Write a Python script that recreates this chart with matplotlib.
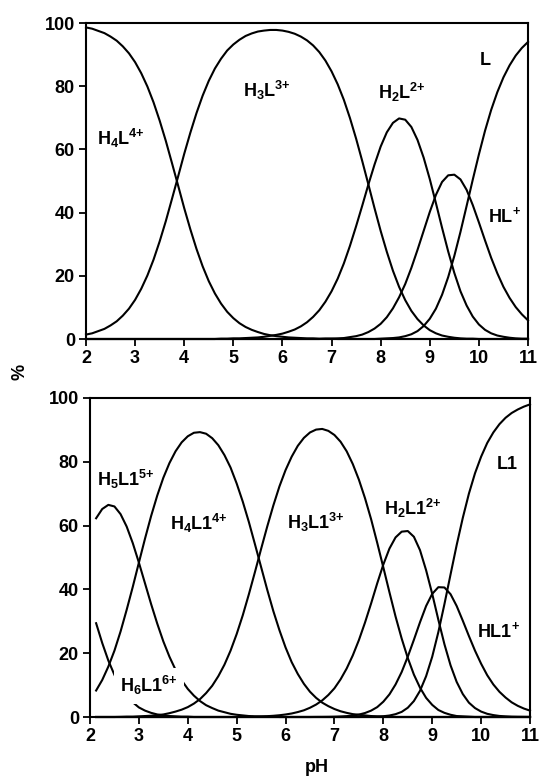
import matplotlib
matplotlib.use("Agg")
import matplotlib.pyplot as plt

plt.rcParams["font.family"] = ["Liberation Sans", "DejaVu Sans"]
plt.rcParams["font.weight"] = "bold"
plt.rcParams["mathtext.fontset"] = "custom"
plt.rcParams["mathtext.rm"] = "Liberation Sans:bold"

# ---- top panel: L (percent of each species vs pH) ----
ph_top = [2.0, 2.125, 2.25, 2.375, 2.5, 2.625, 2.75, 2.875, 3.0, 3.125, 3.25, 3.375,
          3.5, 3.625, 3.75, 3.875, 4.0, 4.125, 4.25, 4.375, 4.5, 4.625, 4.75, 4.875,
          5.0, 5.125, 5.25, 5.375, 5.5, 5.625, 5.75, 5.875, 6.0, 6.125, 6.25, 6.375,
          6.5, 6.625, 6.75, 6.875, 7.0, 7.125, 7.25, 7.375, 7.5, 7.625, 7.75, 7.875,
          8.0, 8.125, 8.25, 8.375, 8.5, 8.625, 8.75, 8.875, 9.0, 9.125, 9.25, 9.375,
          9.5, 9.625, 9.75, 9.875, 10.0, 10.125, 10.25, 10.375, 10.5, 10.625, 10.75,
          10.875, 11.0]
h4l = [98.6, 98.2, 97.5, 96.8, 95.7, 94.4, 92.6, 90.4, 87.6, 84.1, 79.9, 74.9,
       69.1, 62.7, 55.7, 48.6, 41.4, 34.7, 28.5, 23.0, 18.3, 14.4, 11.2, 8.6,
       6.6, 5.0, 3.8, 2.9, 2.2, 1.6, 1.2, 0.9, 0.7, 0.5, 0.4, 0.3,
       0.2, 0.2, 0.1, 0.1, 0.1] + [0] * 32
h3l = [1.4, 1.8, 2.5, 3.2, 4.3, 5.6, 7.4, 9.6, 12.4, 15.9, 20.1, 25.1,
       30.9, 37.3, 44.3, 51.4, 58.6, 65.3, 71.5, 77.0, 81.7, 85.6, 88.7, 91.3,
       93.2, 94.7, 95.9, 96.7, 97.3, 97.6, 97.8, 97.8, 97.6, 97.2, 96.6, 95.7,
       94.5, 92.9, 90.8, 88.1, 84.7, 80.6, 75.7, 69.9, 63.4, 56.3, 48.9, 41.4,
       34.2, 27.6, 21.6, 16.5, 12.3, 8.9, 6.3, 4.3, 2.8, 1.8, 1.1, 0.7,
       0.4, 0.2, 0.1, 0.1] + [0] * 9
h2l = [0] * 22 + [0.1, 0.1,
       0.2, 0.2, 0.3, 0.4, 0.5, 0.7, 1.0, 1.3, 1.7, 2.3, 3.0, 4.0,
       5.3, 7.0, 9.1, 11.8, 15.1, 19.1, 23.9, 29.5, 35.7, 42.2, 48.9, 55.2,
       60.9, 65.4, 68.4, 69.8, 69.4, 67.1, 63.0, 57.4, 50.6, 43.0, 35.2, 27.7,
       20.9, 15.1, 10.6, 7.1, 4.6, 2.9, 1.8, 1.1, 0.7, 0.4, 0.2, 0.1, 0.1]
hl = [0] * 39 + [0.1,
      0.1, 0.2, 0.3, 0.6, 0.9, 1.4, 2.2, 3.3,
      4.8, 6.9, 9.7, 13.2, 17.4, 22.5, 28.2, 34.2, 40.2, 45.6, 49.7, 51.8,
      52.0, 50.5, 47.2, 42.4, 36.9, 31.2, 25.7, 20.8, 16.5, 13.0, 10.1, 7.8, 5.9]
l_free = [0] * 48 + [
    0.1, 0.2, 0.3, 0.5, 0.9, 1.5, 2.5, 4.1, 6.4, 9.6, 14.0, 19.6,
    26.3, 33.9, 42.1, 50.4, 58.4, 65.9, 72.5, 78.1, 82.8, 86.6, 89.7, 92.1, 94.0]

# ---- bottom panel: L1 ----
ph_bot = [2.125, 2.25, 2.375, 2.5, 2.625, 2.75, 2.875, 3.0, 3.125, 3.25, 3.375,
          3.5, 3.625, 3.75, 3.875, 4.0, 4.125, 4.25, 4.375, 4.5, 4.625, 4.75, 4.875,
          5.0, 5.125, 5.25, 5.375, 5.5, 5.625, 5.75, 5.875, 6.0, 6.125, 6.25, 6.375,
          6.5, 6.625, 6.75, 6.875, 7.0, 7.125, 7.25, 7.375, 7.5, 7.625, 7.75, 7.875,
          8.0, 8.125, 8.25, 8.375, 8.5, 8.625, 8.75, 8.875, 9.0, 9.125, 9.25, 9.375,
          9.5, 9.625, 9.75, 9.875, 10.0, 10.125, 10.25, 10.375, 10.5, 10.625, 10.75,
          10.875, 11.0]
h6l1 = [29.4, 23.2, 17.7, 13.2, 9.5, 6.7, 4.6, 3.0, 2.0, 1.3, 0.8,
        0.5, 0.3, 0.2, 0.1, 0.1] + [0] * 56
h5l1 = [62.3, 65.2, 66.5, 66.0, 63.6, 59.7, 54.5, 48.4, 41.9, 35.4, 29.3,
        23.7, 18.9, 14.8, 11.5, 8.8, 6.7, 5.0, 3.7, 2.8, 2.0, 1.5, 1.0,
        0.7, 0.5, 0.3, 0.2, 0.15, 0.1, 0.1] + [0] * 42
h4l1 = [8.3, 11.6, 15.8, 20.8, 26.8, 33.6, 40.8, 48.4, 55.9, 63.0, 69.4,
        75.0, 79.6, 83.3, 86.1, 88.0, 89.1, 89.3, 88.8, 87.4, 85.2, 82.1, 78.2,
        73.2, 67.5, 61.1, 54.1, 47.0, 39.9, 33.2, 27.2, 21.8, 17.2, 13.5, 10.4,
        7.9, 6.0, 4.5, 3.4, 2.5, 1.8, 1.3, 0.9, 0.7, 0.5, 0.3, 0.2,
        0.1, 0.1] + [0] * 23
h3l1 = [0, 0, 0, 0, 0.04, 0.1, 0.1, 0.2, 0.3, 0.4, 0.6,
        0.8, 1.2, 1.7, 2.3, 3.1, 4.2, 5.6, 7.5, 9.8, 12.8, 16.4, 20.8,
        26.0, 31.9, 38.5, 45.5, 52.7, 59.7, 66.3, 72.3, 77.4, 81.6, 85.0, 87.5,
        89.2, 90.1, 90.3, 89.7, 88.4, 86.3, 83.3, 79.3, 74.4, 68.6, 62.0, 54.6,
        46.9, 39.1, 31.5, 24.6, 18.5, 13.3, 9.2, 6.0, 3.8, 2.2, 1.3, 0.7,
        0.3, 0.2, 0.1] + [0] * 10
h2l1 = [0] * 24 + [
    0.04, 0.07, 0.1, 0.17, 0.26, 0.38, 0.55, 0.79, 1.1, 1.55, 2.1,
    2.9, 3.9, 5.2, 6.9, 9.0, 11.8, 15.2, 19.3, 24.1, 29.6, 35.6, 41.9,
    47.8, 52.8, 56.3, 58.1, 58.3, 56.5, 52.3, 46.0, 38.6, 30.5, 22.8, 16.2,
    11.0, 7.2, 4.5, 2.8, 1.7, 1.0, 0.6, 0.33, 0.2, 0.1, 0.06, 0.04, 0.02]
hl1 = [0] * 36 + [
    0.02, 0.03, 0.05, 0.09, 0.16, 0.27, 0.46, 0.76, 1.25, 2.0, 3.1,
    4.8, 7.1, 10.2, 14.1, 18.9, 24.2, 29.7, 34.8, 38.6, 40.7, 40.6, 38.5,
    34.8, 30.2, 25.4, 20.8, 16.7, 13.1, 10.2, 7.9, 6.1, 4.6, 3.5, 2.65, 2.0]
l1 = [0] * 44 + [
    0.03, 0.06, 0.1, 0.24, 0.46, 0.89, 1.6, 2.9, 5.0, 8.2, 12.8, 18.9,
    26.6, 35.4, 44.7, 53.9, 62.4, 70.0, 76.4, 81.6, 85.9, 89.2, 91.8, 93.8,
    95.3, 96.4, 97.3, 98.0]

top_series = [h4l, h3l, h2l, hl, l_free]
bot_series = [h6l1, h5l1, h4l1, h3l1, h2l1, hl1, l1]

FS = 13


def style_axes(ax):
    ax.set_xlim(2, 11)
    ax.set_ylim(0, 100)
    ax.set_xticks(range(2, 12))
    ax.set_yticks(range(0, 101, 20))
    ax.tick_params(direction="out", length=5, width=1.3, labelsize=FS, pad=3)
    for sp in ax.spines.values():
        sp.set_linewidth(1.5)


def species(h, n, base, charge):
    # e.g. species("4", "", "L", "4+") -> H4L with superscript 4+
    sub = r"$_\mathregular{%s}$" % n if n else ""
    sup = r"$^\mathregular{%s{+}}$" % charge if charge else r"$^\mathregular{{+}}$"
    return h + sub + base + sup


fig = plt.figure(figsize=(5.39, 7.81), dpi=100)
ax1 = fig.add_axes([86 / 539, 1 - 339 / 781, 442 / 539, 316 / 781])
ax2 = fig.add_axes([90 / 539, 1 - 717 / 781, 440 / 539, 319 / 781])

for y in top_series:
    ax1.plot(ph_top, y, color="black", lw=1.5, clip_on=False)
for y in bot_series:
    ax2.plot(ph_bot, y, color="black", lw=1.5, clip_on=False)

style_axes(ax1)
style_axes(ax2)

lab = dict(fontsize=FS, color="black", va="baseline", ha="left")
ax1.text(2.22, 61.5, species("H", "4", "L", "4"), **lab)
ax1.text(5.2, 76.5, species("H", "3", "L", "3"), **lab)
ax1.text(7.95, 76.0, species("H", "2", "L", "2"), **lab)
ax1.text(10.02, 86.7, "L", **lab)
ax1.text(10.19, 37.0, species("H", "", "L", ""), **lab)

ax2.text(2.14, 72.4, species("H", "5", "L1", "5"), **lab)
ax2.text(3.63, 58.6, species("H", "4", "L1", "4"), **lab)
# white box hides the curve pieces behind this label, as in the original
ax2.text(2.61, 7.7, species("H", "6", "L1", "6"), zorder=5,
         bbox=dict(boxstyle="square,pad=0.35", fc="white", ec="none"), **lab)
ax2.text(6.02, 58.8, species("H", "3", "L1", "3"), **lab)
ax2.text(8.02, 63.3, species("H", "2", "L1", "2"), **lab)
ax2.text(10.31, 77.6, "L1", **lab)
ax2.text(9.92, 25.2, species("H", "", "L1", ""), **lab)

fig.text(20 / 539, 1 - 372 / 781, "%", rotation=90, fontsize=FS,
         ha="center", va="center")
fig.text(317 / 539, 1 - 768 / 781, "pH", fontsize=FS, ha="center", va="center")

fig.savefig("out.png", dpi=100)
